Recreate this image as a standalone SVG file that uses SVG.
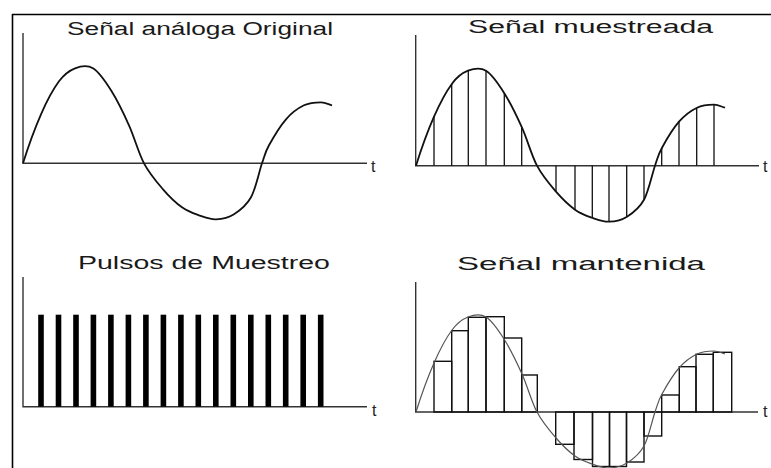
<svg xmlns="http://www.w3.org/2000/svg" xmlns:xlink="http://www.w3.org/1999/xlink" width="771" height="468" viewBox="0 0 771 468">
<style>
.title{font-family:"Liberation Sans",Arial,sans-serif;font-size:18px;fill:#1a1a1a}
.t{font-family:"Liberation Sans",Arial,sans-serif;font-size:16px;fill:#222}
.axis{stroke:#333;stroke-width:1.4;fill:none}
.frame{stroke:#000;stroke-width:1.6;fill:none}
.samp{stroke:#111;stroke-width:1.3;fill:none}
.hold{stroke:#111;stroke-width:1.4;fill:none}
.pulse{fill:#000}
</style>
<defs>
<path id="wave" d="M0,0 C5,-16 12,-35.3 18,-49 C24,-62.7 30.3,-74.3 36,-82 C41.7,-89.7 46.3,-92.8 52,-95 C57.7,-97.2 64,-98.7 70,-95 C76,-91.3 82,-82.5 88,-73 C94,-63.5 100.5,-50.2 106,-38 C111.5,-25.8 115.3,-10.7 121,0 C126.7,10.7 133.7,18.7 140,26 C146.3,33.3 153,39.7 159,44 C165,48.3 170.3,50 176,52 C181.7,54 187.2,56.2 193,56 C198.8,55.8 205.2,54.7 211,51 C216.8,47.3 223.3,42.5 228,34 C232.7,25.5 236,8.7 239,0 C242,-8.7 242,-10.7 246,-18 C250,-25.3 257.2,-37.3 263,-44 C268.8,-50.7 275.2,-55.2 281,-58 C286.8,-60.8 293.3,-61 298,-61 C302.7,-61 305.3,-59 309,-58"/>
</defs>
<rect width="771" height="468" fill="#fff"/>
<g id="frame">
<path class="frame" d="M12,14.5 H771 M12.5,14 V468"/>
</g>
<g id="analog">
<text class="title" x="67" y="35" textLength="266" lengthAdjust="spacingAndGlyphs">Señal análoga Original</text>
<path class="axis" d="M23,33 V163.3 H367"/>
<text class="t" x="371" y="171.5">t</text>
<use xlink:href="#wave" transform="translate(23,163.3)" fill="none" stroke="#111" stroke-width="1.8"/>
</g>
<g id="sampled">
<text class="title" x="468" y="33.3" textLength="245" lengthAdjust="spacingAndGlyphs">Señal muestreada</text>
<path class="axis" d="M415.7,35 V165.7 H759"/>
<text class="t" x="763" y="171.7">t</text>
<g transform="translate(416,165.7)">
<path class="samp" d="M18,0 V-49.3 M35.7,0 V-81.7 M52.3,0 V-95.5 M70,0 V-95.3 M88.3,0 V-72.7 M105.7,0 V-37.7 M140,0 V25.7 M159,0 V44 M176.3,0 V52.3 M193,0 V55.7 M210.7,0 V50.7 M228,0 V34 M245.7,0 V-17.7 M263,0 V-44.3 M280.7,0 V-57.7 M298,0 V-61"/>
<use xlink:href="#wave" fill="none" stroke="#111" stroke-width="1.8"/>
</g>
</g>
<g id="pulses">
<text class="title" x="78" y="269" textLength="252" lengthAdjust="spacingAndGlyphs">Pulsos de Muestreo</text>
<path class="axis" d="M23,277 V406.7 H367"/>
<text class="t" x="372" y="415.7">t</text>
<g class="pulse">
<rect x="38.2" y="314.7" width="5.6" height="92"/>
<rect x="55.7" y="314.7" width="5.6" height="92"/>
<rect x="73.2" y="314.7" width="5.6" height="92"/>
<rect x="90.6" y="314.7" width="5.6" height="92"/>
<rect x="108.1" y="314.7" width="5.6" height="92"/>
<rect x="125.6" y="314.7" width="5.6" height="92"/>
<rect x="143.1" y="314.7" width="5.6" height="92"/>
<rect x="160.6" y="314.7" width="5.6" height="92"/>
<rect x="178.1" y="314.7" width="5.6" height="92"/>
<rect x="195.5" y="314.7" width="5.6" height="92"/>
<rect x="213.0" y="314.7" width="5.6" height="92"/>
<rect x="230.5" y="314.7" width="5.6" height="92"/>
<rect x="248.0" y="314.7" width="5.6" height="92"/>
<rect x="265.5" y="314.7" width="5.6" height="92"/>
<rect x="282.9" y="314.7" width="5.6" height="92"/>
<rect x="300.4" y="314.7" width="5.6" height="92"/>
<rect x="317.9" y="314.7" width="5.6" height="92"/>
</g>
</g>
<g id="held">
<text class="title" x="457" y="269.5" textLength="248" lengthAdjust="spacingAndGlyphs">Señal mantenida</text>
<path class="axis" d="M415.7,282 V412 H758"/>
<text class="t" x="763" y="416.7">t</text>
<g class="hold">
<rect x="434" y="361.3" width="17.7" height="50.7"/>
<rect x="451.7" y="330.7" width="16.6" height="81.3"/>
<rect x="468.3" y="317.3" width="17.7" height="94.7"/>
<rect x="486" y="316.7" width="18.3" height="95.3"/>
<rect x="504.3" y="338" width="17.4" height="74"/>
<rect x="521.7" y="375" width="15.6" height="37"/>
<rect x="555.7" y="412" width="18.3" height="32.3"/>
<rect x="574" y="412" width="18.5" height="47.5"/>
<rect x="592.5" y="412" width="17" height="54.5"/>
<rect x="609.5" y="412" width="17" height="54.5"/>
<rect x="626.5" y="412" width="17.5" height="50"/>
<rect x="644" y="412" width="17.7" height="24"/>
<rect x="661.7" y="395" width="17.6" height="17"/>
<rect x="679.3" y="366.7" width="16.7" height="45.3"/>
<rect x="696" y="354.3" width="17.3" height="57.7"/>
<rect x="713.3" y="352.3" width="18.4" height="59.7"/>
</g>
<use xlink:href="#wave" transform="translate(416,412)" fill="none" stroke="#555" stroke-width="1.2"/>
</g>
</svg>
